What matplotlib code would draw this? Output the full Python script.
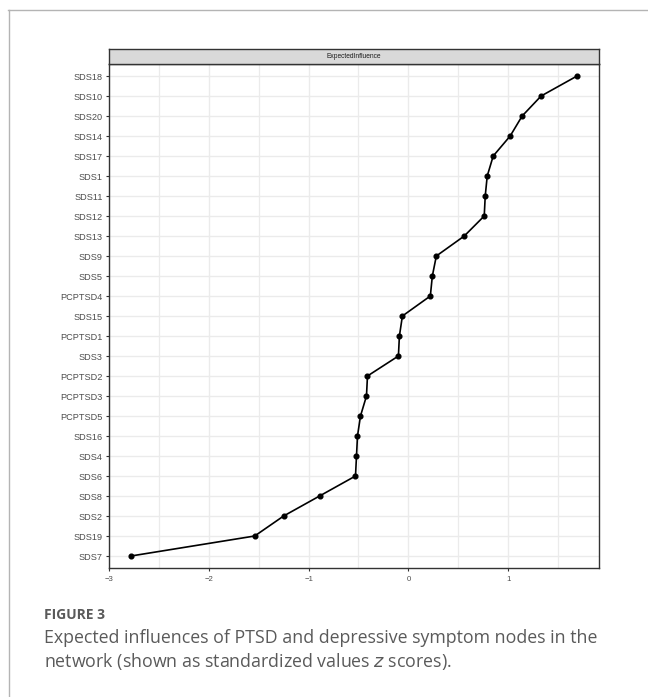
import matplotlib.pyplot as plt
from matplotlib.lines import Line2D
from matplotlib.ticker import MultipleLocator

# node labels, top to bottom, and their expected influence (z scores)
nodes = ['SDS18', 'SDS10', 'SDS20', 'SDS14', 'SDS17', 'SDS1', 'SDS11', 'SDS12',
         'SDS13', 'SDS9', 'SDS5', 'PCPTSD4', 'SDS15', 'PCPTSD1', 'SDS3', 'PCPTSD2',
         'PCPTSD3', 'PCPTSD5', 'SDS16', 'SDS4', 'SDS6', 'SDS8', 'SDS2', 'SDS19', 'SDS7']
influence = [1.69, 1.33, 1.14, 1.02, 0.85, 0.79, 0.77, 0.76,
             0.56, 0.28, 0.24, 0.22, -0.06, -0.09, -0.10, -0.41,
             -0.42, -0.48, -0.51, -0.52, -0.53, -0.89, -1.25, -1.54, -2.78]
xticks = [-3, -2, -1, 0, 1]
strip_label = 'ExpectedInfluence'

W, H = 648, 697
fig = plt.figure(figsize=(W / 100, H / 100), dpi=100)

# frame around the figure (only top and left visible)
fig.add_artist(Line2D([8 / W, 1], [1 - 10 / H] * 2, color='#b4b4b4', lw=1.0))
fig.add_artist(Line2D([9 / W] * 2, [0, 1 - 10 / H], color='#b4b4b4', lw=1.0))

left, right, top, bottom = 109, 599, 64, 568
ax = fig.add_axes([left / W, 1 - bottom / H, (right - left) / W, (bottom - top) / H])

ypos = list(range(len(nodes), 0, -1))
ax.plot(influence, ypos, color='black', lw=1.2, marker='o', ms=3.4, zorder=3)

ax.set_xlim(-3.0, 1.91)
ax.set_ylim(0.4, len(nodes) + 0.6)
ax.set_yticks(ypos)
ax.set_yticklabels(nodes)
ax.set_xticks(xticks)
ax.xaxis.set_minor_locator(MultipleLocator(0.5))
ax.grid(True, which='major', color='#ebebeb', lw=1.0, zorder=0)
ax.grid(True, which='minor', axis='x', color='#ebebeb', lw=0.9, zorder=0)
ax.set_axisbelow(True)
ax.tick_params(axis='both', which='major', length=2.5, width=0.8, color='#333333',
               labelcolor='#4d4d4d', pad=2)
ax.tick_params(axis='y', labelsize=6.6)
ax.tick_params(axis='x', labelsize=5.6, pad=3)
ax.tick_params(which='minor', length=0)
for s in ax.spines.values():
    s.set_color('#333333')
    s.set_linewidth(1.0)
for lab in ax.get_xticklabels() + ax.get_yticklabels():
    lab.set_family('Liberation Sans')

# facet strip
sax = fig.add_axes([left / W, 1 - top / H, (right - left) / W, 15 / H])
sax.set_facecolor('#d9d9d9')
sax.set_xticks([])
sax.set_yticks([])
for s in sax.spines.values():
    s.set_color('#333333')
    s.set_linewidth(1.0)
sax.text(0.5, 0.5, strip_label, ha='center', va='center', fontsize=4.8,
         color='#1a1a1a', family='Liberation Sans', transform=sax.transAxes)

# caption
fig.text(44 / W, 1 - 615 / H, 'FIGURE 3', fontsize=10, fontweight='bold',
         color='#5a5a5a', family='Open Sans', va='center')
fig.text(44 / W, 1 - 638 / H,
         'Expected influences of PTSD and depressive symptom nodes in the',
         fontsize=12.8, color='#5a5a5a', family='Open Sans', va='center')
fig.text(44 / W, 1 - 662 / H,
         'network (shown as standardized values $z$ scores).',
         fontsize=12.8, color='#5a5a5a', family='Open Sans', va='center',
         math_fontfamily='dejavusans')

fig.savefig('out.png', dpi=100)
